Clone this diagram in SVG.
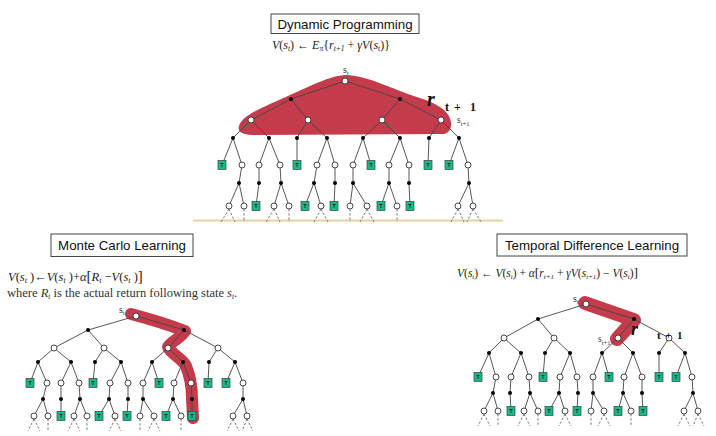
<svg xmlns="http://www.w3.org/2000/svg" xmlns:xlink="http://www.w3.org/1999/xlink" width="716" height="436" viewBox="0 0 716 436">
<style>
.e{stroke:#444;stroke-width:0.9;fill:none}
.d{stroke:#555;stroke-width:0.8;fill:none;stroke-dasharray:2.4 1.8}
.w{fill:#fff;stroke:#333;stroke-width:0.9}
.b{fill:#000}
.tb{fill:#1db58a;stroke:#2b4a3d;stroke-width:0.7}
.tt{font-family:"Liberation Sans",Arial,sans-serif;font-size:5px;font-weight:bold;fill:#111;text-anchor:middle}
.box{fill:#fff;stroke:#444;stroke-width:1}
.ttl{font-family:"Liberation Sans",Arial,sans-serif;font-size:13.3px;fill:#111;text-anchor:middle}
.f{font-family:"Liberation Serif","Times New Roman",serif;font-style:italic;fill:#222}
.rm{font-style:normal}
.lab{font-family:"Liberation Serif","Times New Roman",serif;fill:#333}
.r{font-family:"Liberation Serif","Times New Roman",serif;font-weight:bold;fill:#111}
.blob{fill:#c43c4c;stroke:none}
.hl{fill:none;stroke:#c43c4c;stroke-linecap:round;stroke-linejoin:round}
</style>
<defs>
<circle id="w" class="w" r="3"/>
<circle id="b" class="b" r="2"/>
<rect id="tb" class="tb" x="-4" y="-4.5" width="8" height="9"/>
</defs>

<!-- ===== Dynamic Programming ===== -->
<g id="dp-title"><rect class="box" x="271" y="14" width="148" height="19.5"/><text class="ttl" x="345" y="28.5">Dynamic Programming</text></g>
<g id="dp-formula"><text class="f" x="272" y="49" font-size="12">V<tspan class="rm">(</tspan>s<tspan font-size="7.5" dy="2">t</tspan><tspan class="rm" dy="-2">) ← </tspan>E<tspan font-size="7.5" dy="2">π</tspan><tspan class="rm" dy="-2">{</tspan>r<tspan font-size="7.5" dy="2">t+1</tspan><tspan class="rm" dy="-2"> + </tspan>γV<tspan class="rm">(</tspan>s<tspan font-size="7.5" dy="2">t</tspan><tspan class="rm" dy="-2">)}</tspan></text></g>
<line id="dp-ground" x1="193" y1="220.5" x2="503" y2="220.5" stroke="#e6d29c" stroke-width="2"/>
<path id="dp-highlight" class="blob" d="M239,126 C242,115 262,108 290,95 C315,84 332,75 347,75 C365,76 382,84 400,91 C418,98 434,101 444,110 C454,119 453,132 444,134 L252,135 C242,135 237,131 239,126 Z"/>
<g id="dp-connectors">
<path class="e" d="M345 81L291 99M345 81L400 99M291 99L251 120M291 99L308 120M400 99L382 120M400 99L441 120M251 120L233 138M251 120L269 138M308 120L297 138M308 120L327 138M382 120L363 138M382 120L400 138M441 120L429 138M441 120L459 138M233 138L222 165M233 138L242 165M269 138L259 165M269 138L280 165M297 138L297 165M327 138L317 165M327 138L335 165M363 138L353 165M363 138L371 165M400 138L389 165M400 138L409 165M429 138L428 165M459 138L449 165M459 138L468 165M242 165L239 183M259 165L259 183M280 165L281 183M317 165L314 183M335 165L335 183M353 165L353 183M389 165L389 183M409 165L409 183M468 165L469 183M239 183L229 206M239 183L244 206M259 183L256 206M281 183L274 206M281 183L289 206M314 183L305 206M314 183L321 206M335 183L334 206M353 183L350 206M353 183L367 206M389 183L381 206M389 183L397 206M409 183L410 206M469 183L458 206M469 183L473 206"/>
<path class="d" d="M229 209L221 222M229 209L235 222M244 209L244 222M274 209L266 222M274 209L280 222M289 209L289 222M321 209L314 222M321 209L328 222M350 209L350 222M367 209L360 222M367 209L374 222M397 209L397 222M458 209L451 222M458 209L464 222M473 209L467 222M473 209L481 222"/>
</g>
<g id="dp-nodes">
<use id="dp-root" href="#w" x="345" y="81"/>
<use href="#b" x="291" y="99"/><use href="#b" x="400" y="99"/>
<use href="#w" x="251" y="120"/><use href="#w" x="308" y="120"/><use href="#w" x="382" y="120"/><use href="#w" x="441" y="120"/>
<use href="#b" x="233" y="138"/><use href="#b" x="269" y="138"/><use href="#b" x="297" y="138"/><use href="#b" x="327" y="138"/><use href="#b" x="363" y="138"/><use href="#b" x="400" y="138"/><use href="#b" x="429" y="138"/><use href="#b" x="459" y="138"/>
<use href="#w" x="242" y="165"/><use href="#w" x="259" y="165"/><use href="#w" x="280" y="165"/><use href="#w" x="317" y="165"/><use href="#w" x="335" y="165"/><use href="#w" x="353" y="165"/><use href="#w" x="389" y="165"/><use href="#w" x="409" y="165"/><use href="#w" x="468" y="165"/>
<use href="#b" x="239" y="183"/><use href="#b" x="259" y="183"/><use href="#b" x="281" y="183"/><use href="#b" x="314" y="183"/><use href="#b" x="335" y="183"/><use href="#b" x="353" y="183"/><use href="#b" x="389" y="183"/><use href="#b" x="409" y="183"/><use href="#b" x="469" y="183"/>
<use href="#w" x="229" y="206"/><use href="#w" x="244" y="206"/><use href="#w" x="274" y="206"/><use href="#w" x="289" y="206"/><use href="#w" x="321" y="206"/><use href="#w" x="350" y="206"/><use href="#w" x="367" y="206"/><use href="#w" x="397" y="206"/><use href="#w" x="458" y="206"/><use href="#w" x="473" y="206"/>
<g><use href="#tb" x="222" y="165"/><text class="tt" x="222" y="167">T</text></g>
<g><use href="#tb" x="297" y="165"/><text class="tt" x="297" y="167">T</text></g>
<g><use href="#tb" x="371" y="165"/><text class="tt" x="371" y="167">T</text></g>
<g><use href="#tb" x="428" y="165"/><text class="tt" x="428" y="167">T</text></g>
<g><use href="#tb" x="449" y="165"/><text class="tt" x="449" y="167">T</text></g>
<g><use href="#tb" x="256" y="206"/><text class="tt" x="256" y="208">T</text></g>
<g><use href="#tb" x="305" y="206"/><text class="tt" x="305" y="208">T</text></g>
<g><use href="#tb" x="334" y="206"/><text class="tt" x="334" y="208">T</text></g>
<g><use href="#tb" x="381" y="206"/><text class="tt" x="381" y="208">T</text></g>
<g><use href="#tb" x="410" y="206"/><text class="tt" x="410" y="208">T</text></g>
</g>
<g id="dp-labels">
<text class="lab" x="343" y="73" font-size="10">s<tspan font-size="6.5" dy="2">t</tspan></text>
<text class="r" x="427" y="106" font-size="20" font-style="italic">r<tspan font-size="12" font-style="normal" x="445" dy="4.5">t</tspan><tspan font-size="12" font-style="normal" x="454">+</tspan><tspan font-size="12" font-style="normal" x="470">1</tspan></text>
<text class="lab" x="457" y="123" font-size="9.5">s<tspan font-size="6.5" dy="2.5">t+1</tspan></text>
</g>

<!-- ===== Monte Carlo Learning ===== -->
<g id="mc-title"><rect class="box" x="51" y="234" width="142" height="22.5"/><text class="ttl" x="122" y="250">Monte Carlo Learning</text></g>
<g id="mc-formula">
<text class="f" x="8" y="281" font-size="12.5">V<tspan class="rm">(</tspan>s<tspan font-size="8" dy="2">t</tspan><tspan class="rm" dy="-2"> )←</tspan>V<tspan class="rm">(</tspan>s<tspan font-size="8" dy="2">t</tspan><tspan class="rm" dy="-2"> )+</tspan>α<tspan class="rm" font-size="15">[</tspan>R<tspan font-size="8" dy="2">t</tspan><tspan class="rm" dy="-2"> −</tspan>V<tspan class="rm">(</tspan>s<tspan font-size="8" dy="2">t</tspan><tspan class="rm" dy="-2"> )</tspan><tspan class="rm" font-size="15">]</tspan></text>
<text class="lab" x="7" y="297" font-size="12.5" fill="#111">where <tspan font-style="italic">R</tspan><tspan font-size="7.5" font-style="italic" dy="2">t</tspan><tspan dy="-2"> is the actual return following state </tspan><tspan font-style="italic">s</tspan><tspan font-size="7.5" font-style="italic" dy="2">t</tspan><tspan dy="-2">.</tspan></text>
</g>
<path id="mc-highlight" class="hl" stroke-width="12" d="M131,314 C150,319 172,326 185,331 C181,338 170,342 168,347 C172,355 182,358 186,366 C190,376 192,388 192,398 L193,418"/>
<g id="mc-connectors">
<path class="e" d="M136 316L88 330M136 316L184 330M88 330L54 348M88 330L104 348M184 330L168 348M184 330L218 348M54 348L38 362M54 348L71 362M104 348L95 362M104 348L121 362M168 348L152 362M168 348L183 362M218 348L209 362M218 348L235 362M38 362L30 383M38 362L47 383M71 362L61 383M71 362L79 383M95 362L93 383M121 362L110 383M121 362L128 383M152 362L143 383M152 362L159 383M183 362L174 383M183 362L191 383M209 362L208 383M235 362L226 383M235 362L243 383M47 383L43 399M61 383L61 399M79 383L80 399M110 383L109 399M128 383L128 399M143 383L143 399M174 383L173 399M191 383L192 399M243 383L243 399M43 399L34 416M43 399L48 416M61 399L61 416M80 399L74 416M80 399L87 416M109 399L99 416M109 399L115 416M128 399L127 416M143 399L140 416M143 399L154 416M173 399L166 416M173 399L181 416M192 399L192 416M243 399L233 416M243 399L247 416"/>
<path class="d" d="M34 419L28 431M34 419L40 431M48 419L48 431M74 419L68 431M74 419L80 431M87 419L87 431M115 419L109 431M115 419L121 431M140 419L140 431M154 419L148 431M154 419L160 431M181 419L181 431M233 419L227 431M233 419L239 431M247 419L242 431M247 419L253 431"/>
</g>
<g id="mc-nodes">
<use id="mc-root" href="#w" x="136" y="316"/>
<use href="#b" x="88" y="330"/><use href="#b" x="184" y="330"/>
<use href="#w" x="54" y="348"/><use href="#w" x="104" y="348"/><use href="#w" x="168" y="348"/><use href="#w" x="218" y="348"/>
<use href="#b" x="38" y="362"/><use href="#b" x="71" y="362"/><use href="#b" x="95" y="362"/><use href="#b" x="121" y="362"/><use href="#b" x="152" y="362"/><use href="#b" x="183" y="362"/><use href="#b" x="209" y="362"/><use href="#b" x="235" y="362"/>
<use href="#w" x="47" y="383"/><use href="#w" x="61" y="383"/><use href="#w" x="79" y="383"/><use href="#w" x="110" y="383"/><use href="#w" x="128" y="383"/><use href="#w" x="143" y="383"/><use href="#w" x="174" y="383"/><use href="#w" x="191" y="383"/><use href="#w" x="243" y="383"/>
<use href="#b" x="43" y="399"/><use href="#b" x="61" y="399"/><use href="#b" x="80" y="399"/><use href="#b" x="109" y="399"/><use href="#b" x="128" y="399"/><use href="#b" x="143" y="399"/><use href="#b" x="173" y="399"/><use href="#b" x="192" y="399"/><use href="#b" x="243" y="399"/>
<use href="#w" x="34" y="416"/><use href="#w" x="48" y="416"/><use href="#w" x="74" y="416"/><use href="#w" x="87" y="416"/><use href="#w" x="115" y="416"/><use href="#w" x="140" y="416"/><use href="#w" x="154" y="416"/><use href="#w" x="181" y="416"/><use href="#w" x="233" y="416"/><use href="#w" x="247" y="416"/>
<g><use href="#tb" x="30" y="383"/><text class="tt" x="30" y="385">T</text></g>
<g><use href="#tb" x="93" y="383"/><text class="tt" x="93" y="385">T</text></g>
<g><use href="#tb" x="159" y="383"/><text class="tt" x="159" y="385">T</text></g>
<g><use href="#tb" x="208" y="383"/><text class="tt" x="208" y="385">T</text></g>
<g><use href="#tb" x="226" y="383"/><text class="tt" x="226" y="385">T</text></g>
<g><use href="#tb" x="61" y="416"/><text class="tt" x="61" y="418">T</text></g>
<g><use href="#tb" x="99" y="416"/><text class="tt" x="99" y="418">T</text></g>
<g><use href="#tb" x="127" y="416"/><text class="tt" x="127" y="418">T</text></g>
<g><use href="#tb" x="166" y="416"/><text class="tt" x="166" y="418">T</text></g>
<g><use href="#tb" x="192" y="416"/><text class="tt" x="192" y="418">T</text></g>
</g>
<g id="mc-labels"><text class="lab" x="119" y="313" font-size="10">s<tspan font-size="6.5" dy="2">t</tspan></text></g>

<!-- ===== Temporal Difference Learning ===== -->
<g id="td-title"><rect class="box" x="497" y="234" width="190" height="22"/><text class="ttl" x="592" y="250">Temporal Difference Learning</text></g>
<g id="td-formula"><text class="f" x="457" y="277" font-size="11.5">V<tspan class="rm">(</tspan>s<tspan font-size="7" dy="2">t</tspan><tspan class="rm" dy="-2">) ← </tspan>V<tspan class="rm">(</tspan>s<tspan font-size="7" dy="2">t</tspan><tspan class="rm" dy="-2">) + </tspan>α<tspan class="rm" font-size="13.5">[</tspan>r<tspan font-size="7" dy="2">t+1</tspan><tspan class="rm" dy="-2"> + </tspan>γV<tspan class="rm">(</tspan>s<tspan font-size="7" dy="2">t+1</tspan><tspan class="rm" dy="-2">) − </tspan>V<tspan class="rm">(</tspan>s<tspan font-size="7" dy="2">t</tspan><tspan class="rm" dy="-2">)</tspan><tspan class="rm" font-size="13.5">]</tspan></text></g>
<path id="td-highlight" class="hl" stroke-width="14" d="M585,303 L634,320 L617,339"/>
<g id="td-connectors">
<path class="e" d="M586 304L538 319M586 304L634 319M538 319L504 338M538 319L554 338M634 319L618 338M634 319L669 338M504 338L489 353M504 338L521 353M554 338L545 353M554 338L570 353M618 338L602 353M618 338L633 353M669 338L659 353M669 338L685 353M489 353L478 377M489 353L496 377M521 353L511 377M521 353L529 377M545 353L543 377M570 353L560 377M570 353L577 377M602 353L593 377M602 353L609 377M633 353L624 377M633 353L642 377M659 353L659 377M685 353L676 377M685 353L692 377M496 377L493 393M511 377L510 393M529 377L530 393M560 377L559 393M577 377L578 393M593 377L593 393M624 377L623 393M642 377L642 393M692 377L693 393M493 393L484 411M493 393L498 411M510 393L511 411M530 393L524 411M530 393L538 411M559 393L549 411M559 393L565 411M578 393L577 411M593 393L591 411M593 393L604 411M623 393L618 411M623 393L631 411M642 393L643 411M693 393L684 411M693 393L698 411"/>
<path class="d" d="M484 414L478 426M484 414L490 426M498 414L498 426M524 414L518 426M524 414L530 426M538 414L538 426M565 414L559 426M565 414L571 426M591 414L591 426M604 414L598 426M604 414L610 426M631 414L631 426M684 414L678 426M684 414L690 426M698 414L693 426M698 414L704 426"/>
</g>
<g id="td-nodes">
<use id="td-root" href="#w" x="586" y="304"/>
<use href="#b" x="538" y="319"/><use href="#b" x="634" y="319"/>
<use href="#w" x="504" y="338"/><use href="#w" x="554" y="338"/><use href="#w" x="618" y="338"/><use href="#w" x="669" y="338"/>
<use href="#b" x="489" y="353"/><use href="#b" x="521" y="353"/><use href="#b" x="545" y="353"/><use href="#b" x="570" y="353"/><use href="#b" x="602" y="353"/><use href="#b" x="633" y="353"/><use href="#b" x="659" y="353"/><use href="#b" x="685" y="353"/>
<use href="#w" x="496" y="377"/><use href="#w" x="511" y="377"/><use href="#w" x="529" y="377"/><use href="#w" x="560" y="377"/><use href="#w" x="577" y="377"/><use href="#w" x="593" y="377"/><use href="#w" x="624" y="377"/><use href="#w" x="642" y="377"/><use href="#w" x="692" y="377"/>
<use href="#b" x="493" y="393"/><use href="#b" x="510" y="393"/><use href="#b" x="530" y="393"/><use href="#b" x="559" y="393"/><use href="#b" x="578" y="393"/><use href="#b" x="593" y="393"/><use href="#b" x="623" y="393"/><use href="#b" x="642" y="393"/><use href="#b" x="693" y="393"/>
<use href="#w" x="484" y="411"/><use href="#w" x="498" y="411"/><use href="#w" x="524" y="411"/><use href="#w" x="538" y="411"/><use href="#w" x="565" y="411"/><use href="#w" x="591" y="411"/><use href="#w" x="604" y="411"/><use href="#w" x="631" y="411"/><use href="#w" x="684" y="411"/><use href="#w" x="698" y="411"/>
<g><use href="#tb" x="478" y="377"/><text class="tt" x="478" y="379">T</text></g>
<g><use href="#tb" x="543" y="377"/><text class="tt" x="543" y="379">T</text></g>
<g><use href="#tb" x="609" y="377"/><text class="tt" x="609" y="379">T</text></g>
<g><use href="#tb" x="659" y="377"/><text class="tt" x="659" y="379">T</text></g>
<g><use href="#tb" x="676" y="377"/><text class="tt" x="676" y="379">T</text></g>
<g><use href="#tb" x="511" y="411"/><text class="tt" x="511" y="413">T</text></g>
<g><use href="#tb" x="549" y="411"/><text class="tt" x="549" y="413">T</text></g>
<g><use href="#tb" x="577" y="411"/><text class="tt" x="577" y="413">T</text></g>
<g><use href="#tb" x="618" y="411"/><text class="tt" x="618" y="413">T</text></g>
<g><use href="#tb" x="643" y="411"/><text class="tt" x="643" y="413">T</text></g>
</g>
<g id="td-labels">
<text class="lab" x="573" y="302" font-size="10">s<tspan font-size="6.5" dy="2">t</tspan></text>
<text class="lab" x="598" y="342" font-size="9.5">s<tspan font-size="6.5" dy="2.5">t+1</tspan></text>
<text class="r" x="631" y="335" font-size="18" font-style="italic">r<tspan font-size="11" font-style="normal" x="657" dy="4">t</tspan><tspan font-size="11" font-style="normal" x="665">+</tspan><tspan font-size="11" font-style="normal" x="677">1</tspan></text>
</g>
</svg>
